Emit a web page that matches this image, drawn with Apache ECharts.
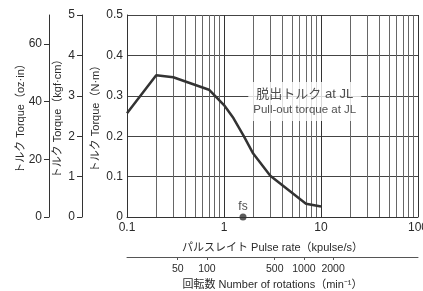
<!DOCTYPE html>
<html>
<head>
<meta charset="utf-8">
<script src="https://cdn.jsdelivr.net/npm/echarts@6/dist/echarts.min.js"></script>
<style>
html,body{margin:0;padding:0;background:#fff;}
#c{width:423px;height:291px;}
</style>
</head>
<body>
<div id="c"></div>
<script>
// Pull-out torque curve (pulse rate in kpulse/s, torque in N·m)
const pulseRates = [0.1, 0.2, 0.3, 0.7, 1.0, 1.25, 1.6, 2.0, 3.0, 7.0, 10];
const torques    = [0.257, 0.351, 0.346, 0.315, 0.277, 0.245, 0.2, 0.157, 0.102, 0.033, 0.026];
// Start frequency fs
const fsPoint = [1.57, 0];
// Minor vertical grid lines (log decades)
const minorLines = [0.2,0.3,0.4,0.5,0.6,0.7,0.8,0.9, 2,3,4,5,6,7,8,9, 20,30,40,50,60,70,80,90];
// Tick labels
const nmTicks = [0, 0.1, 0.2, 0.3, 0.4, 0.5];
const kgfTicks = [0, 1, 2, 3, 4, 5];
const ozTicks = [0, 20, 40, 60];
const rpmTicks = [50, 100, 500, 1000, 2000];
// rotations (min^-1) = kpulse/s * 150  (400 pulses/rev)
const rpmRange = [15, 15000];
// Annotation anchor
const annotPos = [6.8, 0.286];

const FONT = '"Liberation Sans","Noto Sans CJK JP",sans-serif';
const TXT = '#2a2a2a';

const chart = echarts.init(document.getElementById('c'), null, {renderer:'canvas'});
chart.setOption({
  animation: false,
  textStyle: {fontFamily: FONT, color: TXT},
  grid: {left: 127, right: 5, top: 15, bottom: 74, containLabel: false, outerBoundsMode: 'none'},
  xAxis: [{
    type: 'log', logBase: 10, min: 0.1, max: 100,
    axisLine: {show: true, lineStyle: {color: '#333', width: 1}},
    axisTick: {show: false},
    splitLine: {show: true, lineStyle: {color: '#333', width: 1}},
    minorSplitLine: {show: false},
    axisLabel: {fontSize: 12, color: TXT, margin: 5, fontFamily: FONT,
      formatter: v => String(+(+v).toPrecision(3))},
    name: 'パルスレイト Pulse rate（kpulse/s）',
    nameLocation: 'middle', nameGap: 25,
    nameTextStyle: {fontSize: 11, color: TXT, fontFamily: FONT}
  }, {
    type: 'value', position: 'bottom', offset: 40,
    min: Math.log10(rpmRange[0]), max: Math.log10(rpmRange[1]),
    axisLine: {show: true, onZero: false, lineStyle: {color: '#555', width: 1}},
    axisTick: {show: true, inside: false, length: 3, lineStyle: {color: '#555'},
      customValues: rpmTicks.map(v => Math.log10(v))},
    axisLabel: {fontSize: 10.5, color: TXT, margin: 7, fontFamily: FONT,
      customValues: rpmTicks.map(v => Math.log10(v)),
      formatter: v => String(Math.round(Math.pow(10, v)))},
    splitLine: {show: false},
    name: '回転数 Number of rotations（min⁻¹）',
    nameLocation: 'middle', nameGap: 22,
    nameTextStyle: {fontSize: 11, color: TXT, fontFamily: FONT}
  }],
  yAxis: [{
    type: 'value', min: 0, max: 0.5, interval: 0.1, position: 'left',
    axisLine: {show: true, lineStyle: {color: '#333'}},
    axisTick: {show: false},
    splitLine: {show: true, lineStyle: {color: '#444', width: 1}},
    axisLabel: {fontSize: 12, color: TXT, margin: 4, fontFamily: FONT,
      customValues: nmTicks,
      formatter: v => v === 0 ? '0' : v.toFixed(1)},
    name: 'トルク Torque（N·m）', nameLocation: 'middle', nameRotate: 90, nameGap: 26,
    nameMoveOverlap: false,
    nameTextStyle: {fontSize: 11, color: TXT, fontFamily: FONT}
  }, {
    type: 'value', min: 0, max: 5, position: 'left', offset: 45,
    axisLine: {show: true, onZero: false, lineStyle: {color: '#333'}},
    axisTick: {show: true, inside: false, length: 5, lineStyle: {color: '#333'}, customValues: kgfTicks},
    splitLine: {show: false},
    axisLabel: {fontSize: 12, color: TXT, margin: 7, fontFamily: FONT, customValues: kgfTicks},
    name: 'トルク Torque（kgf·cm）', nameLocation: 'middle', nameRotate: 90, nameGap: 19,
    nameMoveOverlap: false,
    nameTextStyle: {fontSize: 11, color: TXT, fontFamily: FONT}
  }, {
    type: 'value', min: 0, max: 70, position: 'left', offset: 78,
    axisLine: {show: true, onZero: false, lineStyle: {color: '#333'}},
    axisTick: {show: true, inside: false, length: 5, lineStyle: {color: '#333'}, customValues: ozTicks},
    splitLine: {show: false},
    axisLabel: {fontSize: 12, color: TXT, margin: 7, fontFamily: FONT, customValues: ozTicks},
    name: 'トルク Torque（oz·in）', nameLocation: 'middle', nameRotate: 90, nameGap: 23,
    nameMoveOverlap: false,
    nameTextStyle: {fontSize: 11, color: TXT, fontFamily: FONT}
  }],
  series: [{
    type: 'line', xAxisIndex: 0, yAxisIndex: 0,
    data: pulseRates.map((x, i) => [x, torques[i]]),
    symbol: 'none', smooth: false, z: 5,
    lineStyle: {color: '#333', width: 2.5},
    markLine: {
      silent: true, symbol: ['none', 'none'], animation: false,
      label: {show: false},
      lineStyle: {type: 'solid', color: '#666', width: 1},
      emphasis: {disabled: true},
      data: minorLines.map(v => ({xAxis: v}))
    }
  }, {
    type: 'scatter', xAxisIndex: 0, yAxisIndex: 0, clip: false, z: 6,
    data: [fsPoint], symbolSize: 7,
    itemStyle: {color: '#333'},
    label: {show: true, position: 'top', distance: 1, formatter: 'fs',
      fontSize: 12, color: '#222', fontFamily: FONT}
  }, {
    type: 'scatter', xAxisIndex: 0, yAxisIndex: 0, z: 10,
    data: [annotPos], symbolSize: 0, silent: true,
    label: {show: true, position: 'inside',
      formatter: '{a|脱出トルク at JL}\n{b|Pull-out torque at JL}',
      backgroundColor: '#fff', padding: [4, 5, 4, 5], align: 'center',
      rich: {
        a: {fontSize: 13, lineHeight: 17, color: '#222', fontFamily: FONT, align: 'center'},
        b: {fontSize: 11.5, lineHeight: 14, color: '#222', fontFamily: FONT, align: 'center'}
      }}
  }]
});
</script>
</body>
</html>
